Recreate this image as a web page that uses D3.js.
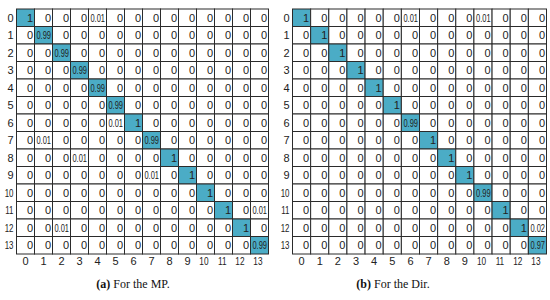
<!DOCTYPE html>
<html>
<head>
<meta charset="utf-8">
<script src="https://cdn.jsdelivr.net/npm/d3@7"></script>
<style>
  body { margin: 0; background: #fff; }
  .cell text { font-family: "Liberation Sans Narrow", "Liberation Sans", sans-serif; font-size: 11px; fill: #222; }
  .lbl { font-family: "Liberation Sans Narrow", "Liberation Sans", sans-serif; font-size: 11px; fill: #222; }
  .cap { font-family: "Liberation Serif", "DejaVu Serif", serif; font-size: 12px; fill: #111; }
</style>
</head>
<body>
<svg id="chart" width="550" height="300"></svg>
<script>
// class labels 0..13
const classes = d3.range(14).map(String);

// confusion matrix, MP
const mpMatrix = [
  [1, 0, 0, 0, 0.01, 0, 0, 0, 0, 0, 0, 0, 0, 0],
  [0, 0.99, 0, 0, 0, 0, 0, 0, 0, 0, 0, 0, 0, 0],
  [0, 0, 0.99, 0, 0, 0, 0, 0, 0, 0, 0, 0, 0, 0],
  [0, 0, 0, 0.99, 0, 0, 0, 0, 0, 0, 0, 0, 0, 0],
  [0, 0, 0, 0, 0.99, 0, 0, 0, 0, 0, 0, 0, 0, 0],
  [0, 0, 0, 0, 0, 0.99, 0, 0, 0, 0, 0, 0, 0, 0],
  [0, 0, 0, 0, 0, 0.01, 1, 0, 0, 0, 0, 0, 0, 0],
  [0, 0.01, 0, 0, 0, 0, 0, 0.99, 0, 0, 0, 0, 0, 0],
  [0, 0, 0, 0.01, 0, 0, 0, 0, 1, 0, 0, 0, 0, 0],
  [0, 0, 0, 0, 0, 0, 0, 0.01, 0, 1, 0, 0, 0, 0],
  [0, 0, 0, 0, 0, 0, 0, 0, 0, 0, 1, 0, 0, 0],
  [0, 0, 0, 0, 0, 0, 0, 0, 0, 0, 0, 1, 0, 0.01],
  [0, 0, 0.01, 0, 0, 0, 0, 0, 0, 0, 0, 0, 1, 0],
  [0, 0, 0, 0, 0, 0, 0, 0, 0, 0, 0, 0, 0, 0.99]
];

// confusion matrix, Dir
const dirMatrix = [
  [1, 0, 0, 0, 0, 0, 0.01, 0, 0, 0, 0.01, 0, 0, 0],
  [0, 1, 0, 0, 0, 0, 0, 0, 0, 0, 0, 0, 0, 0],
  [0, 0, 1, 0, 0, 0, 0, 0, 0, 0, 0, 0, 0, 0],
  [0, 0, 0, 1, 0, 0, 0, 0, 0, 0, 0, 0, 0, 0],
  [0, 0, 0, 0, 1, 0, 0, 0, 0, 0, 0, 0, 0, 0],
  [0, 0, 0, 0, 0, 1, 0, 0, 0, 0, 0, 0, 0, 0],
  [0, 0, 0, 0, 0, 0, 0.99, 0, 0, 0, 0, 0, 0, 0],
  [0, 0, 0, 0, 0, 0, 0, 1, 0, 0, 0, 0, 0, 0],
  [0, 0, 0, 0, 0, 0, 0, 0, 1, 0, 0, 0, 0, 0],
  [0, 0, 0, 0, 0, 0, 0, 0, 0, 1, 0, 0, 0, 0],
  [0, 0, 0, 0, 0, 0, 0, 0, 0, 0, 0.99, 0, 0, 0],
  [0, 0, 0, 0, 0, 0, 0, 0, 0, 0, 0, 1, 0, 0],
  [0, 0, 0, 0, 0, 0, 0, 0, 0, 0, 0, 0, 1, 0.02],
  [0, 0, 0, 0, 0, 0, 0, 0, 0, 0, 0, 0, 0, 0.97]
];

const captions = [["(a)", " For the MP."], ["(b)", " For the Dir."]];

const svg = d3.select('#chart');

// narrow font is missing: squeeze the longer strings horizontally
function narrow(s, k) {
  return s.length > 1 ? k : 1;
}

function drawMatrix(matrix, left, right, caption, capX) {
  let top = 9, bottom = 254;
  let x = d3.scaleBand().domain(classes).range([left, right]);
  let y = d3.scaleBand().domain(classes).range([top, bottom]);

  let cells = [];
  matrix.forEach((row, i) => row.forEach((v, j) => cells.push({ r: classes[i], c: classes[j], v: v })));

  let g = svg.append('g');
  let cell = g.selectAll('g.cell')
    .data(cells)
    .enter().append('g')
    .attr('class', 'cell');

  cell.append('rect')
    .attr('x', d => x(d.c))
    .attr('y', d => y(d.r))
    .attr('width', x.bandwidth())
    .attr('height', y.bandwidth())
    .style('fill', d => d.v >= 0.5 ? '#4bacc6' : '#fff')
    .style('stroke', '#2b2b2b')
    .style('stroke-width', 1);

  cell.append('text')
    .attr('transform', d => `translate(${x(d.c) + x.bandwidth() - 1.5},${y(d.r) + y.bandwidth() / 2}) scale(${narrow(String(d.v), 0.68)},1)`)
    .attr('dy', '0.35em')
    .attr('text-anchor', 'end')
    .text(d => d.v);

  // row labels
  g.selectAll('text.rowlbl')
    .data(classes)
    .enter().append('text')
    .attr('class', 'lbl')
    .attr('transform', d => `translate(${left - 3},${y(d) + y.bandwidth() / 2}) scale(${narrow(d, 0.72)},1)`)
    .attr('dy', '0.35em')
    .attr('text-anchor', 'end')
    .text(d => d);

  // column labels
  g.selectAll('text.collbl')
    .data(classes)
    .enter().append('text')
    .attr('class', 'lbl')
    .attr('transform', d => `translate(${x(d) + x.bandwidth() - 6},${bottom + 7}) scale(${narrow(d, 0.75)},1)`)
    .attr('dy', '0.35em')
    .attr('text-anchor', 'end')
    .text(d => d);

  let cap = g.append('text')
    .attr('class', 'cap')
    .attr('x', capX)
    .attr('y', 288)
    .attr('text-anchor', 'middle');
  cap.append('tspan').style('font-weight', 'bold').text(caption[0]);
  cap.append('tspan').text(caption[1]);
}

drawMatrix(mpMatrix, 16.5, 268.5, captions[0], 133);
drawMatrix(dirMatrix, 292.5, 546.5, captions[1], 393);
</script>
</body>
</html>
